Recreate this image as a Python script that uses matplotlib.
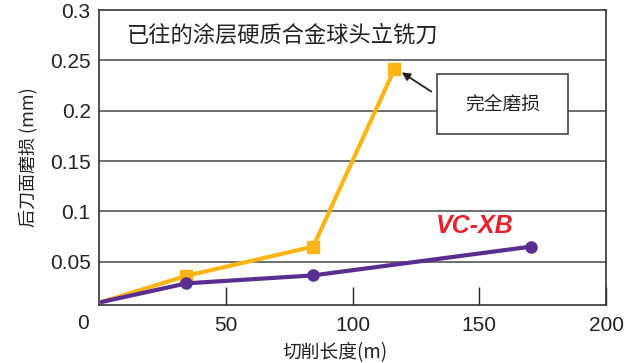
import matplotlib
matplotlib.use('Agg')
import matplotlib.pyplot as plt
from matplotlib.patches import Rectangle

# cutting length (m) vs flank wear (mm)
old_x = [1, 34.5, 84.5, 116.5]
old_y = [0.010, 0.036, 0.065, 0.241]
vcxb_x = [1, 34.5, 84.5, 170.5]
vcxb_y = [0.010, 0.0285, 0.0364, 0.065]
yticks = [0.05, 0.1, 0.15, 0.2, 0.25, 0.3]
ytick_labels = ['0.05', '0.1', '0.15', '0.2', '0.25', '0.3']
xticks = [50, 100, 150, 200]

plt.rcParams['font.family'] = ['Liberation Sans', 'Noto Sans CJK SC', 'DejaVu Sans']
cjk = ['Noto Sans CJK SC', 'DejaVu Sans']

fig = plt.figure(figsize=(6.24, 3.63), dpi=100)
ax = fig.add_axes([99/624, 58/363, 507/624, 295/363])

ax.set_xlim(0, 200)
ax.set_ylim(0.007, 0.3)

for v in yticks[:-1]:
    ax.axhline(v, color='#555555', lw=1.2, zorder=1)

# first point is the origin of the curve, drawn without a marker
ax.plot(old_x, old_y, color='#FDB515', lw=3, marker='s', ms=9,
        markevery=[1, 2, 3], solid_capstyle='round', zorder=3)
ax.plot(vcxb_x, vcxb_y, color='#5A2D91', lw=3, marker='o', ms=8,
        markevery=[1, 2, 3], solid_capstyle='round', zorder=4)

ax.set_yticks(yticks)
ax.set_yticklabels(ytick_labels)
ax.set_xticks(xticks)
ax.tick_params(axis='y', length=0, pad=6, labelsize=15, colors='#222222')
ax.tick_params(axis='x', direction='in', length=13, width=1, pad=8,
               labelsize=15, colors='#222222')
for s in ax.spines.values():
    s.set_color('#333333')
    s.set_linewidth(1.2)

ax.text(-0.02, -0.03, '0', transform=ax.transAxes, ha='right', va='top',
        fontsize=15, color='#222222')

ax.text(11, 0.2745, '已往的涂层硬质合金球头立铣刀', fontsize=16,
        family=cjk, color='#222222', va='center', ha='left')

ax.add_patch(Rectangle((133.3, 0.177), 51.7, 0.059, facecolor='white',
                       edgecolor='#444444', lw=1.2, zorder=5))
ax.text(159.2, 0.2065, '完全磨损', fontsize=13.5, family=cjk,
        color='#222222', ha='center', va='center', zorder=6)
ax.annotate('', xy=(118.5, 0.2395), xytext=(132, 0.2175),
            arrowprops=dict(arrowstyle='-|>', color='#222222', lw=1.3,
                            mutation_scale=12), zorder=6)

ax.text(133, 0.0855, 'VC-XB', fontsize=18, fontweight='bold', style='italic',
        color='#E8212B', ha='left', va='center')

ax.set_ylabel('后刀面磨损 (mm)', family=cjk, fontsize=13, color='#222222',
              labelpad=9)
ax.set_xlabel('切削长度(m)', family=cjk, fontsize=13.5, color='#222222')
ax.xaxis.set_label_coords(0.466, -0.125)

fig.savefig('out.png', dpi=100)
